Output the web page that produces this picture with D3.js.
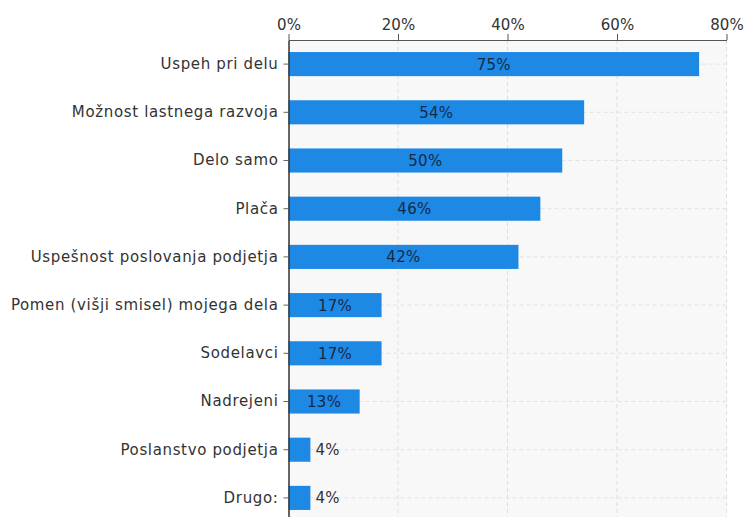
<!DOCTYPE html>
<html>
<head>
<meta charset="utf-8">
<script src="https://cdn.jsdelivr.net/npm/d3@7"></script>
<style>
  body { margin: 0; background: #fff; }
  svg text { font-family: "DejaVu Sans", Verdana, sans-serif; }
</style>
</head>
<body>
<svg id="chart" width="745" height="517"></svg>
<script>
const categories = [
  "Uspeh pri delu",
  "Možnost lastnega razvoja",
  "Delo samo",
  "Plača",
  "Uspešnost poslovanja podjetja",
  "Pomen (višji smisel) mojega dela",
  "Sodelavci",
  "Nadrejeni",
  "Poslanstvo podjetja",
  "Drugo:"
];
const values = [75, 54, 50, 46, 42, 17, 17, 13, 4, 4];
const xTicks = [0, 20, 40, 60, 80];

const svg = d3.select("#chart");
const margin = { left: 288.5, right: 18.5, top: 40 };
const plotRight = 745 - margin.right;
const rowStep = 48.2;
const plotBottom = margin.top + rowStep * categories.length;

const x = d3.scaleLinear().domain([0, 80]).range([margin.left, plotRight]);
const y = d3.scaleBand().domain(categories).range([margin.top, plotBottom]).paddingInner(0.5).paddingOuter(0.25);

// plot background
svg.append("rect")
  .attr("x", x(0)).attr("y", margin.top)
  .attr("width", x(80) - x(0)).attr("height", plotBottom - margin.top)
  .attr("fill", "#f8f8f8");

// grid: vertical at ticks, horizontal at category centres
svg.append("g").selectAll("line").data(xTicks.slice(1)).join("line")
  .attr("x1", d => x(d)).attr("x2", d => x(d))
  .attr("y1", margin.top).attr("y2", plotBottom)
  .attr("stroke", "#dedede").attr("stroke-dasharray", "4,3");
svg.append("g").selectAll("line").data(categories).join("line")
  .attr("x1", x(0)).attr("x2", x(80))
  .attr("y1", d => y(d) + y.bandwidth() / 2).attr("y2", d => y(d) + y.bandwidth() / 2)
  .attr("stroke", "#e2e2e2").attr("stroke-dasharray", "4,3");

// bars
svg.append("g").selectAll("rect").data(values).join("rect")
  .attr("x", x(0))
  .attr("y", (d, i) => y(categories[i]))
  .attr("width", d => x(d) - x(0))
  .attr("height", y.bandwidth())
  .attr("fill", "#1e88e5");

// value labels
svg.append("g").selectAll("text").data(values).join("text")
  .attr("x", d => d >= 10 ? (x(0) + x(d)) / 2 : x(d) + 5)
  .attr("y", (d, i) => y(categories[i]) + y.bandwidth() / 2)
  .attr("dy", "0.36em")
  .attr("text-anchor", d => d >= 10 ? "middle" : "start")
  .attr("font-size", 15)
  .attr("letter-spacing", 0.3)
  .attr("fill", d => d >= 10 ? "#172a45" : "#333")
  .text(d => d + "%");

// top axis
const xAxis = svg.append("g")
  .attr("transform", `translate(0,${margin.top})`)
  .call(d3.axisTop(x).tickValues(xTicks).tickFormat(d => d + "%").tickSize(6).tickSizeOuter(0));
xAxis.select(".domain").attr("stroke", "#555");
xAxis.selectAll(".tick line").attr("stroke", "#555");
xAxis.selectAll("text").attr("font-size", 15).attr("fill", "#333")
  .attr("font-family", "DejaVu Sans, Verdana, sans-serif").attr("dy", "-0.1em");

// left axis
const yAxis = svg.append("g")
  .attr("transform", `translate(${margin.left},0)`)
  .call(d3.axisLeft(y).tickSize(5).tickSizeOuter(0).tickPadding(5));
yAxis.select(".domain").attr("stroke", "#333").attr("stroke-width", 1.5);
yAxis.selectAll(".tick line").attr("stroke", "#666");
yAxis.selectAll("text").attr("font-size", 15).attr("fill", "#333")
  .attr("letter-spacing", 0.65)
  .attr("font-family", "DejaVu Sans, Verdana, sans-serif");
</script>
</body>
</html>
